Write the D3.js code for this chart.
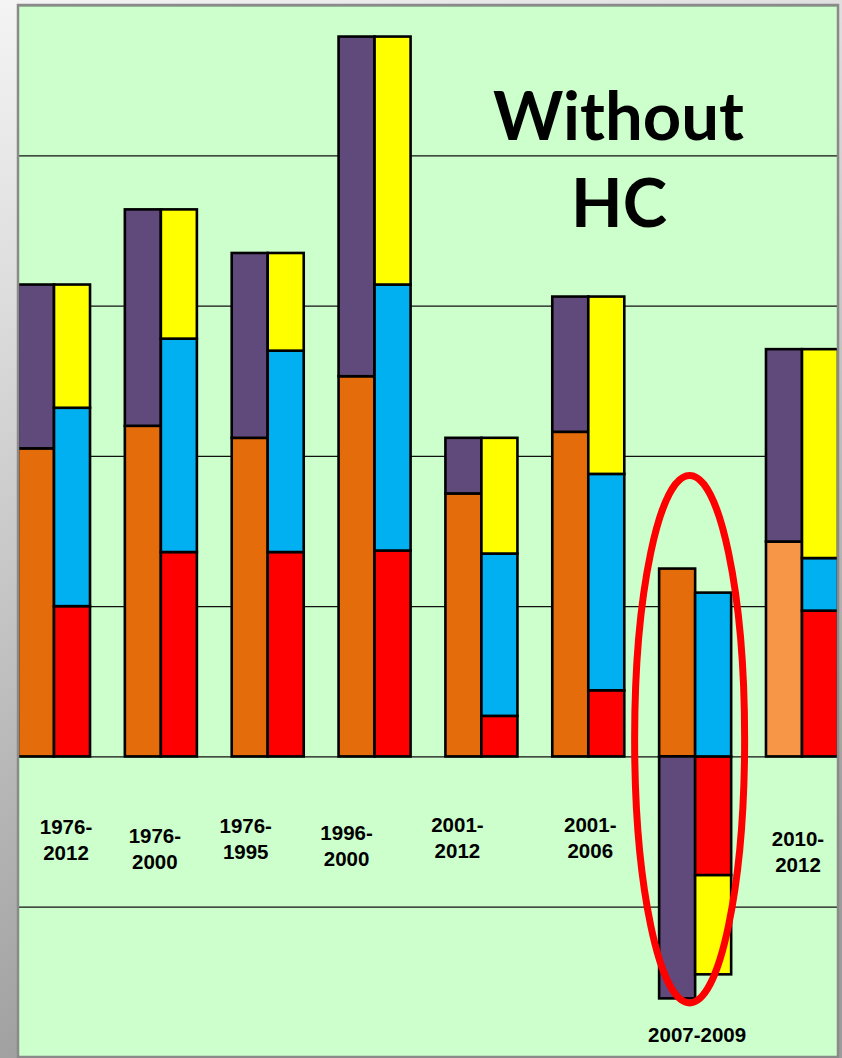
<!DOCTYPE html>
<html>
<head>
<meta charset="utf-8">
<script src="https://cdn.jsdelivr.net/npm/d3@7"></script>
<style>
  html, body { margin: 0; padding: 0; background: #ffffff; }
  svg { display: block; }
</style>
</head>
<body>
<div id="chart"></div>
<script>
// Periods shown along the x axis
const categories = ["1976-2012", "1976-2000", "1976-1995", "1996-2000",
                    "2001-2012", "2001-2006", "2007-2009", "2010-2012"];
const labelLines = [["1976-", "2012"], ["1976-", "2000"], ["1976-", "1995"], ["1996-", "2000"],
                    ["2001-", "2012"], ["2001-", "2006"], ["2007-2009"], ["2010-", "2012"]];

// Left bar of each pair: two components
const leftLower  = [2.05, 2.20, 2.12, 2.53, 1.75, 2.16,  1.25, 1.43];
const leftUpper  = [1.09, 1.44, 1.23, 2.26, 0.37, 0.90, -1.61, 1.28];
// Right bar of each pair: three components
const rightLower  = [1.00, 1.36, 1.36, 1.37, 0.27, 0.44, -0.79, 0.97];
const rightMiddle = [1.32, 1.42, 1.34, 1.77, 1.08, 1.44,  1.09, 0.35];
const rightUpper  = [0.82, 0.86, 0.65, 1.65, 0.77, 1.18, -0.66, 1.39];

// Periods whose lower left component is shown in a lighter shade
const lighterPeriods = ["2010-2012"];
// Period singled out by the ellipse, and the value span it encloses
const highlighted = "2007-2009";
const highlightSpan = [1.87, -1.64];

const yTicks = [-2, -1, 0, 1, 2, 3, 4, 5];

const W = 842, H = 1058;
const plot = { left: 18, top: 5, right: 838, bottom: 1057 };

const colors = {
  leftLower: "#e46c0a", leftLowerLight: "#f79646", leftUpper: "#604a7b",
  rightLower: "#ff0000", rightMiddle: "#00b0f0", rightUpper: "#ffff00"
};

const svg = d3.select("#chart").append("svg")
  .attr("width", W).attr("height", H);

const defs = svg.append("defs");
const bg = defs.append("linearGradient").attr("id", "frameGrad")
  .attr("x1", 0).attr("y1", 0).attr("x2", 0.25).attr("y2", 1);
bg.append("stop").attr("offset", "0%").attr("stop-color", "#f4f4f4");
bg.append("stop").attr("offset", "100%").attr("stop-color", "#9c9c9c");
defs.append("clipPath").attr("id", "plotClip").append("rect")
  .attr("x", plot.left).attr("y", plot.top)
  .attr("width", plot.right - plot.left).attr("height", plot.bottom - plot.top);

// Frame and plot background
svg.append("rect").attr("width", W).attr("height", H).attr("fill", "url(#frameGrad)");
svg.append("rect")
  .attr("x", plot.left).attr("y", plot.top)
  .attr("width", plot.right - plot.left).attr("height", plot.bottom - plot.top)
  .attr("fill", "#ccffcc");

const x = d3.scaleBand().domain(categories)
  .range([plot.left, plot.right]).paddingInner(0.326).paddingOuter(0);
const side = d3.scaleBand().domain(["left", "right"]).range([0, x.bandwidth()]);
const y = d3.scaleLinear().domain([-2, 5]).range([plot.bottom, plot.top]);

const g = svg.append("g").attr("clip-path", "url(#plotClip)");

// Horizontal gridlines
g.append("g")
  .attr("transform", `translate(${plot.left},0)`)
  .call(d3.axisLeft(y).tickValues(yTicks).tickSize(-(plot.right - plot.left)).tickFormat(""))
  .call(s => s.select(".domain").remove())
  .call(s => s.selectAll(".tick line").attr("stroke", "#111").attr("stroke-width", 1.3));

// Rows for stacking
const rows = categories.map((c, i) => ({
  cat: c,
  leftLower: leftLower[i], leftUpper: leftUpper[i],
  rightLower: rightLower[i], rightMiddle: rightMiddle[i], rightUpper: rightUpper[i]
}));

const stackLeft = d3.stack().keys(["leftLower", "leftUpper"]).offset(d3.stackOffsetDiverging)(rows);
const stackRight = d3.stack().keys(["rightLower", "rightMiddle", "rightUpper"]).offset(d3.stackOffsetDiverging)(rows);

function drawStack(series, sideKey) {
  const layer = g.append("g");
  series.forEach(s => {
    layer.selectAll(null).data(s).join("rect")
      .attr("x", d => x(d.data.cat) + side(sideKey))
      .attr("width", side.bandwidth())
      .attr("y", d => y(Math.max(d[0], d[1])))
      .attr("height", d => Math.abs(y(d[0]) - y(d[1])))
      .attr("fill", d => (s.key === "leftLower" && lighterPeriods.includes(d.data.cat))
        ? colors.leftLowerLight : colors[s.key])
      .attr("stroke", "#000")
      .attr("stroke-width", 2.6);
  });
}
drawStack(stackLeft, "left");
drawStack(stackRight, "right");

// Period labels
const labelLayout = [
  { dx: 12, y: 834 }, { dx: -6, y: 843 }, { dx: -22, y: 833 }, { dx: -28, y: 840 },
  { dx: -24, y: 832 }, { dx: 2, y: 832 }, { dx: 2, y: 1042 }, { dx: -4, y: 846 }
];
const labels = svg.append("g")
  .attr("font-family", "'Liberation Sans', Arial, sans-serif")
  .attr("font-weight", "bold").attr("font-size", 20.5)
  .attr("text-anchor", "middle").attr("fill", "#000");
categories.forEach((c, i) => {
  const cx = x(c) + x.bandwidth() / 2 + labelLayout[i].dx;
  labelLines[i].forEach((line, j) => {
    labels.append("text")
      .attr("x", cx).attr("y", labelLayout[i].y + j * 25.5)
      .text(line);
  });
});

// Ellipse around the highlighted period
const hx = x(highlighted) + x.bandwidth() / 2 - 5.5;
const hy0 = y(highlightSpan[0]), hy1 = y(highlightSpan[1]);
svg.append("ellipse")
  .attr("cx", hx).attr("cy", (hy0 + hy1) / 2)
  .attr("rx", 55).attr("ry", (hy1 - hy0) / 2)
  .attr("fill", "none").attr("stroke", "#ff0000").attr("stroke-width", 7);

// Title
const title = svg.append("g")
  .attr("font-family", "Lato, 'Open Sans', sans-serif")
  .attr("font-weight", "bold").attr("font-size", 67)
  .attr("text-anchor", "middle").attr("fill", "#000");
title.append("text").attr("x", 618.5).attr("y", 140).text("Without");
title.append("text").attr("x", 619).attr("y", 227).text("HC");

// Plot border
svg.append("rect")
  .attr("x", plot.left).attr("y", plot.top)
  .attr("width", plot.right - plot.left).attr("height", plot.bottom - plot.top)
  .attr("fill", "none").attr("stroke", "#8a8a8a").attr("stroke-width", 2.5);
</script>
</body>
</html>
